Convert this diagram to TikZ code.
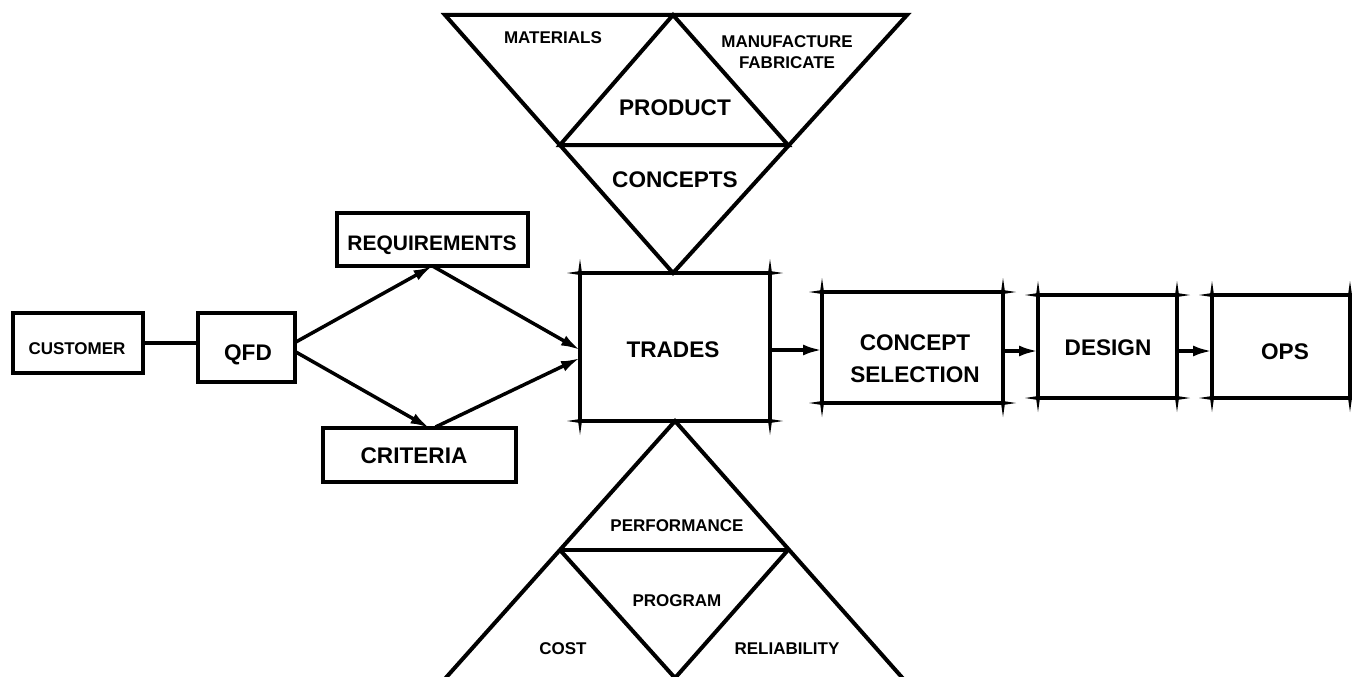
\documentclass[tikz,border=0pt]{standalone}
\usepackage{fontspec}
\setmainfont{Liberation Sans}
\usetikzlibrary{arrows.meta,calc}
\tikzset{
  box/.style={draw, rectangle, line width=4pt, outer sep=0pt, inner sep=0pt},
  lbls/.style={inner sep=0pt, outer sep=0pt, align=center, text depth=0pt, font=\fontsize{17}{21}\selectfont\bfseries},
  lblm/.style={inner sep=0pt, outer sep=0pt, align=center, text depth=0pt, font=\fontsize{21}{26}\selectfont\bfseries},
  lblb/.style={inner sep=0pt, outer sep=0pt, align=center, text depth=0pt, font=\fontsize{22.6}{32}\selectfont\bfseries},
  conn/.style={line width=3.5pt},
  arr/.style={line width=3.5pt, -{Latex[length=19pt,width=11pt]}},
  tri/.style={line width=4pt, line join=miter},
}
\newcommand\spikebox[1]{%
  \foreach \cn/\sx/\sy in {north west/-1/-1, north east/1/-1, south west/-1/1, south east/1/1}{%
    \fill (#1.\cn) ++(0,-2) -- ++(\sx*13,2) -- ++(-\sx*13,2) -- cycle;
    \fill (#1.\cn) ++(-2,0) -- ++(2,\sy*14) -- ++(2,-\sy*14) -- cycle;
  }}
\begin{document}
\begin{tikzpicture}[x=1pt,y=-1pt]
\useasboundingbox (0,0) rectangle (1352,677);
\clip (0,0) rectangle (1352,677);

% boxes
\node[box, minimum width=130pt, minimum height=60pt] (cust) at (78,343) {};
\node[box, minimum width=97pt, minimum height=69pt] (qfd) at (246.5,347.5) {};
\node[box, minimum width=191pt, minimum height=53pt] (req) at (432.5,239.5) {};
\node[box, minimum width=193pt, minimum height=54pt] (crit) at (419.5,455) {};
\node[box, minimum width=190pt, minimum height=148pt] (trades) at (675,347) {};
\node[box, minimum width=181pt, minimum height=111pt] (csel) at (912.5,347.5) {};
\node[box, minimum width=139pt, minimum height=103pt] (design) at (1107.5,346.5) {};
\node[box, minimum width=138pt, minimum height=103pt] (ops) at (1281,346.5) {};

\spikebox{trades}
\spikebox{csel}
\spikebox{design}
\spikebox{ops}

% box texts
\node[lbls] (tcust) at (77,349) {CUSTOMER};
\node[lblb] (tqfd) at (248,353) {QFD};
\node[lblm] (treq) at (432,243) {REQUIREMENTS};
\node[lblb] (tcrit) at (414,456) {CRITERIA};
\node[lblb] (ttrades) at (673,350) {TRADES};
\node[lblb] (tcsel) at (915,359) {CONCEPT\\SELECTION};
\node[lblb] (tdesign) at (1108,348) {DESIGN};
\node[lblb] (tops) at (1285,352) {OPS};

% connectors
\draw[conn] (cust.east) -- (cust.east -| qfd.west);
\coordinate (q1) at ($(qfd.east)+(0,-5)$);
\coordinate (q2) at ($(qfd.east)+(0,4)$);
\coordinate (c1) at ($(crit.north)+(10,0)$);
\coordinate (c2) at ($(crit.north)+(16,-1)$);
\coordinate (t1) at ($(trades.west)+(0,3)$);
\coordinate (t2) at ($(trades.west)+(0,11)$);
\coordinate (t3) at ($(trades.east)+(0,3)$);
\coordinate (s1) at ($(csel.east)+(0,3.5)$);
\coordinate (d1) at ($(design.east)+(0,4.5)$);
\draw[arr] (q1) -- (req.south);
\draw[arr] (q2) -- (c1);
\draw[arr] (req.south) -- (t1);
\draw[arr] (c2) -- (t2);
\draw[arr] (t3) -- (t3 -| csel.west);
\draw[arr] (s1) -- (s1 -| design.west);
\draw[arr] (d1) -- (d1 -| ops.west);

% top triangle
\draw[tri] (445,15) -- (907,15) -- (673,273) -- cycle;
\draw[tri] (560,145) -- (673,15) -- (788,145) -- cycle;
\node[lbls] (tmat) at (553,38) {MATERIALS};
\node[lbls] (tman) at (787,52.5) {MANUFACTURE\\FABRICATE};
\node[lblb] (tprod) at (675,108) {PRODUCT};
\node[lblb] (tconc) at (675,180) {CONCEPTS};

% bottom triangle
\draw[tri] (426,700) -- (675,421) -- (922,700);
\draw[tri] (560,550) -- (788,550);
\draw[tri] (560,550) -- (675,678) -- (788,550);
\node[lbls] (tperf) at (677,526) {PERFORMANCE};
\node[lbls] (tprog) at (677,601) {PROGRAM};
\node[lbls] (tcost) at (563,649) {COST};
\node[lbls] (trel) at (787,649) {RELIABILITY};
\end{tikzpicture}
\end{document}
